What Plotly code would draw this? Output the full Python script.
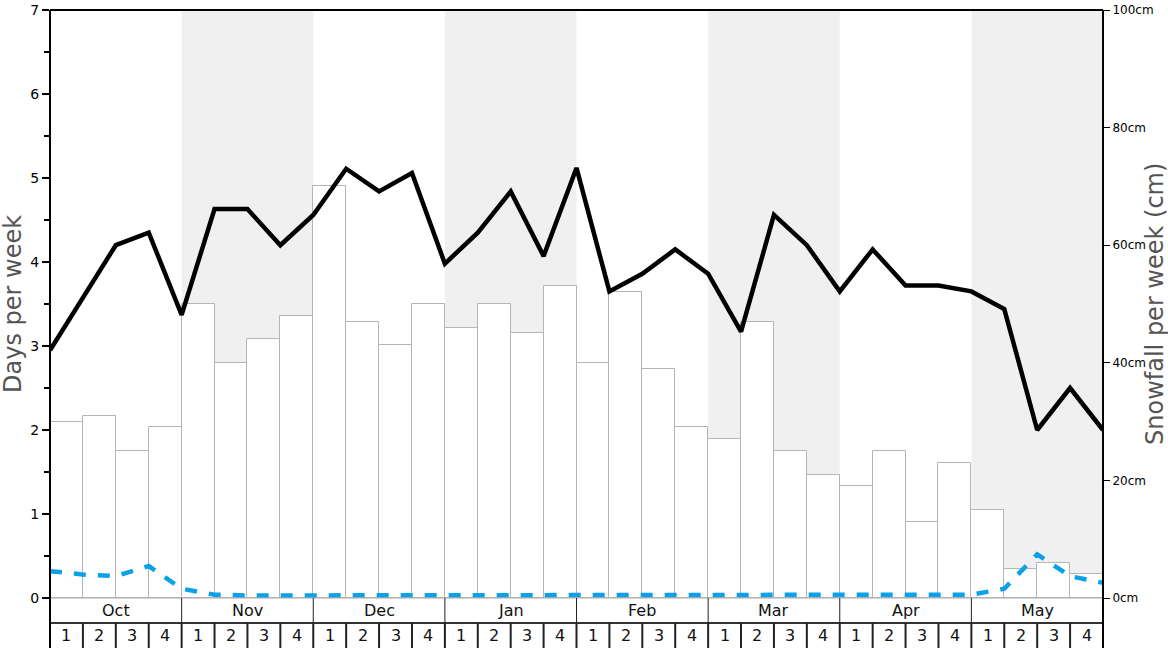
import plotly.graph_objects as go

months = ["Oct", "Nov", "Dec", "Jan", "Feb", "Mar", "Apr", "May"]
week_labels = ["1", "2", "3", "4"]

# Snowfall per week (cm), one value per week (32 weeks)
snowfall_cm = [30, 31, 25, 29,
               50, 40, 44, 48,
               70, 47, 43, 50,
               46, 50, 45, 53,
               40, 52, 39, 29,
               27, 47, 25, 21,
               19, 25, 13, 23,
               15, 5, 6, 4]

# Days per week lines, values at the 33 week boundaries
snow_days = [2.95, 3.58, 4.20, 4.35, 3.37, 4.63, 4.63, 4.20, 4.56, 5.11, 4.84,
             5.06, 3.98, 4.35, 4.84, 4.07, 5.12, 3.65, 3.86, 4.15, 3.86, 3.17,
             4.56, 4.20, 3.65, 4.15, 3.72, 3.72, 3.65, 3.44, 2.00, 2.50, 2.00]
rain_days = [0.32, 0.28, 0.26, 0.38, 0.11, 0.04, 0.03, 0.03, 0.03, 0.03, 0.03,
             0.03, 0.03, 0.03, 0.03, 0.03, 0.03, 0.03, 0.03, 0.03, 0.03, 0.03,
             0.03, 0.03, 0.03, 0.03, 0.03, 0.03, 0.04, 0.11, 0.52, 0.26, 0.18]

cm_ticks = [0, 20, 40, 60, 80, 100]
cm_labels = ["0cm", "20cm", "40cm", "60cm", "80cm", "100cm"]
day_ticks = [0, 1, 2, 3, 4, 5, 6, 7]

n_weeks = len(snowfall_cm)
bar_x = [i + 0.5 for i in range(n_weeks)]
line_x = list(range(n_weeks + 1))

fig = go.Figure()
fig.add_trace(go.Bar(x=bar_x, y=snowfall_cm, width=1, yaxis="y",
                     marker=dict(color="white", line=dict(color="#b5b5b5", width=1)),
                     hoverinfo="skip", showlegend=False))
fig.add_trace(go.Scatter(x=line_x, y=rain_days, yaxis="y2", mode="lines",
                         line=dict(color="#0AA1E8", width=4.5, dash="12px,12px"),
                         hoverinfo="skip", showlegend=False))
fig.add_trace(go.Scatter(x=line_x, y=snow_days, yaxis="y2", mode="lines",
                         line=dict(color="black", width=4.5),
                         hoverinfo="skip", showlegend=False))

H = 588.0
row1 = -25 / H
row2 = -50 / H
shapes = []
for m in range(len(months)):
    if m % 2 == 1:
        shapes.append(dict(type="rect", xref="x", yref="paper", x0=4 * m, x1=4 * m + 4,
                           y0=0, y1=1, fillcolor="#f0f0f0", line=dict(width=0), layer="below"))
# bottom table
shapes.append(dict(type="line", xref="x", yref="paper", x0=0, x1=32, y0=0, y1=0,
                   line=dict(color="#aaaaaa", width=1)))
shapes.append(dict(type="line", xref="x", yref="paper", x0=0, x1=32, y0=row1, y1=row1,
                   line=dict(color="#333333", width=2)))
for m in range(1, len(months)):
    shapes.append(dict(type="line", xref="x", yref="paper", x0=4 * m, x1=4 * m, y0=0, y1=row1,
                       line=dict(color="#222222", width=1)))
for w in range(1, n_weeks):
    shapes.append(dict(type="line", xref="x", yref="paper", x0=w, x1=w, y0=row1, y1=row2,
                       line=dict(color="#222222", width=2)))
# borders
shapes.append(dict(type="line", xref="paper", yref="paper", x0=0, x1=0, y0=row2, y1=1,
                   line=dict(color="black", width=2)))
shapes.append(dict(type="line", xref="paper", yref="paper", x0=1, x1=1, y0=row2, y1=1,
                   line=dict(color="black", width=2)))
shapes.append(dict(type="line", xref="paper", yref="paper", x0=0, x1=1, y0=1, y1=1,
                   line=dict(color="black", width=2)))

annotations = []
for m, name in enumerate(months):
    annotations.append(dict(x=4 * m + 2, y=-12.5 / H, xref="x", yref="paper", text=name,
                            showarrow=False, yanchor="middle", xanchor="center",
                            font=dict(size=16, color="#111111")))
    for k, wl in enumerate(week_labels):
        annotations.append(dict(x=4 * m + k + 0.5, y=-37.5 / H, xref="x", yref="paper", text=wl,
                                showarrow=False, yanchor="middle", xanchor="center",
                                font=dict(size=16, color="#111111")))
annotations.append(dict(x=(13 - 50) / 1053, y=0.5, xref="paper", yref="paper",
                        text="Days per week", textangle=-90, showarrow=False,
                        xanchor="center", yanchor="middle",
                        font=dict(size=24, color="#555555")))
annotations.append(dict(x=(1155 - 50) / 1053, y=0.5, xref="paper", yref="paper",
                        text="Snowfall per week (cm)", textangle=-90, showarrow=False,
                        xanchor="center", yanchor="middle",
                        font=dict(size=24, color="#555555")))

fig.update_layout(
    width=1168, height=648,
    margin=dict(l=50, r=65, t=10, b=50, autoexpand=False),
    paper_bgcolor="white", plot_bgcolor="white",
    font=dict(family="DejaVu Sans", color="black"),
    bargap=0,
    xaxis=dict(range=[0, 32], showgrid=False, zeroline=False, showticklabels=False,
               ticks="", showline=False, fixedrange=True, automargin=False),
    yaxis=dict(range=[0, 100], side="right", tickvals=cm_ticks, ticktext=cm_labels,
               ticks="outside", ticklen=6, tickcolor="black",
               tickfont=dict(size=12), showgrid=False, zeroline=False, showline=False,
               automargin=False),
    yaxis2=dict(range=[0, 7], side="left", overlaying="y", tickvals=day_ticks,
                ticks="outside", ticklen=7, tickcolor="black", tickwidth=1.5,
                minor=dict(dtick=0.5, ticks="outside", ticklen=5, tickcolor="black"),
                tickfont=dict(size=14), showgrid=False, zeroline=False, showline=False,
                automargin=False),
    shapes=shapes,
    annotations=annotations,
)

fig.write_html("out.html", config={"displayModeBar": False},
               post_script="document.body.style.margin='0';document.body.style.overflow='hidden';")
